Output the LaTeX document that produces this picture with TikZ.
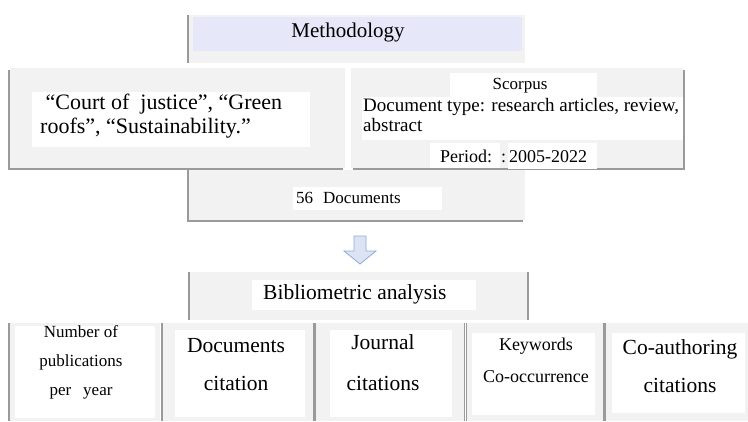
\documentclass[tikz,border=0pt]{standalone}
\usepackage{fontspec}
\setmainfont{Liberation Serif}
\usepackage{xcolor}
\definecolor{panelgray}{HTML}{F2F2F2}
\definecolor{edgegray}{HTML}{9A9A9A}
\definecolor{bandblue}{HTML}{E6E7F8}
\definecolor{arrowline}{HTML}{8EA9DB}
\definecolor{arrowfill}{HTML}{DCE4F4}

\begin{document}
\begin{tikzpicture}[x=1pt,y=-1pt,
  label/.style={inner sep=0pt, text=black},
  block/.style={label, align=center}]
  \useasboundingbox (0,0) rectangle (748,421);

  % Methodology box, upper and lower part, with shadow
  \fill[edgegray] (187,15) rectangle (523,63);
  \fill[panelgray] (189,15) rectangle (525,63);
  \fill[bandblue] (193,17) rectangle (522,51);
  \node[label, anchor=base, font=\fontsize{21}{24}\selectfont] (methtitle) at (348,37) {Methodology};
  \fill[edgegray] (187,170) rectangle (523,222);
  \fill[panelgray] (189,170) rectangle (525,220);

  % Keywords box
  \fill[edgegray] (8,70) rectangle (343,170);
  \fill[panelgray] (10,68) rectangle (345,168);
  \fill[white] (32,92) rectangle (310,147);
  \node[label, anchor=west, align=left, font=\fontsize{22}{24}\selectfont] (terms) at (40,116.5)
    {\ “Court of\ \ justice”, “Green\\roofs”, “Sustainability.”};

  % Database box
  \fill[edgegray] (353,70) rectangle (685,170);
  \fill[panelgray] (351,68) rectangle (683,168);
  \fill[white] (450,73) rectangle (597,97);
  \fill[white] (362,97) rectangle (683,140);
  \fill[white] (430,143) rectangle (500,168);
  \fill[white] (508,143) rectangle (597,169);
  \node[label, anchor=base, font=\fontsize{17}{20}\selectfont] (source) at (520,89) {Scorpus};
  \node[label, anchor=west, align=left, font=\fontsize{19}{20}\selectfont] (doctype) at (363,115)
    {Document type: research articles, review,\\abstract};
  \node[label, anchor=base west, font=\fontsize{18}{20}\selectfont] (period) at (440,162) {Period:};
  \node[label, anchor=base west, font=\fontsize{18}{20}\selectfont] (years) at (501,162) {:\,2005-2022};

  % Result count
  \fill[white] (293,187) rectangle (442,210);
  \node[label, anchor=base west, font=\fontsize{17}{20}\selectfont] (count) at (296,203)
    {56\hspace{10pt}Documents};

  % Hollow arrow
  \draw[arrowline, fill=arrowfill, line width=0.8pt, line join=miter]
    (354,236) -- (366,236) -- (366,251) -- (376,251) -- (360,264)
    -- (344,251) -- (354,251) -- cycle;

  % Bibliometric analysis box
  \fill[edgegray] (188,272) rectangle (529,320);
  \fill[panelgray] (190,272) rectangle (527,320);
  \fill[white] (252,280) rectangle (476,310);
  \node[label, anchor=base west, font=\fontsize{21.5}{24}\selectfont] (biblio) at (263,299)
    {Bibliometric analysis};

  % Analysis boxes
  \fill[edgegray] (8,323) rectangle (158,421);
  \fill[panelgray] (10,323) rectangle (160,421);
  \fill[white] (15,326) rectangle (155,418);
  \node[block, font=\fontsize{17}{29}\selectfont] (perYear) at (81,362)
    {Number of\\publications\\per\hspace{12pt}year};

  \fill[edgegray] (161,323) rectangle (315,421);
  \fill[panelgray] (163,323) rectangle (313,421);
  \fill[white] (175,330) rectangle (305,417);
  \node[block, font=\fontsize{21.5}{38}\selectfont] (docCite) at (236,364.6)
    {Documents\\citation};

  \fill[edgegray] (314,323) rectangle (465,421);
  \fill[panelgray] (316,323) rectangle (464,421);
  \fill[white] (330,330) rectangle (452,417);
  \node[block, font=\fontsize{21.5}{41}\selectfont] (journalCite) at (383,363)
    {Journal\\citations};

  \fill[edgegray] (466,323) rectangle (604,421);
  \fill[panelgray] (467,323) rectangle (603,421);
  \fill[white] (472,333) rectangle (595,415);
  \node[block, font=\fontsize{18}{32}\selectfont] (keywords) at (536,360.5)
    {Keywords\\Co-occurrence};

  \fill[edgegray] (604,323) rectangle (748,421);
  \fill[panelgray] (606,323) rectangle (748,421);
  \fill[white] (612,333) rectangle (745,413);
  \node[block, font=\fontsize{21.5}{38}\selectfont] (coauthor) at (680,366.6)
    {Co-authoring\\citations};
\end{tikzpicture}
\end{document}
